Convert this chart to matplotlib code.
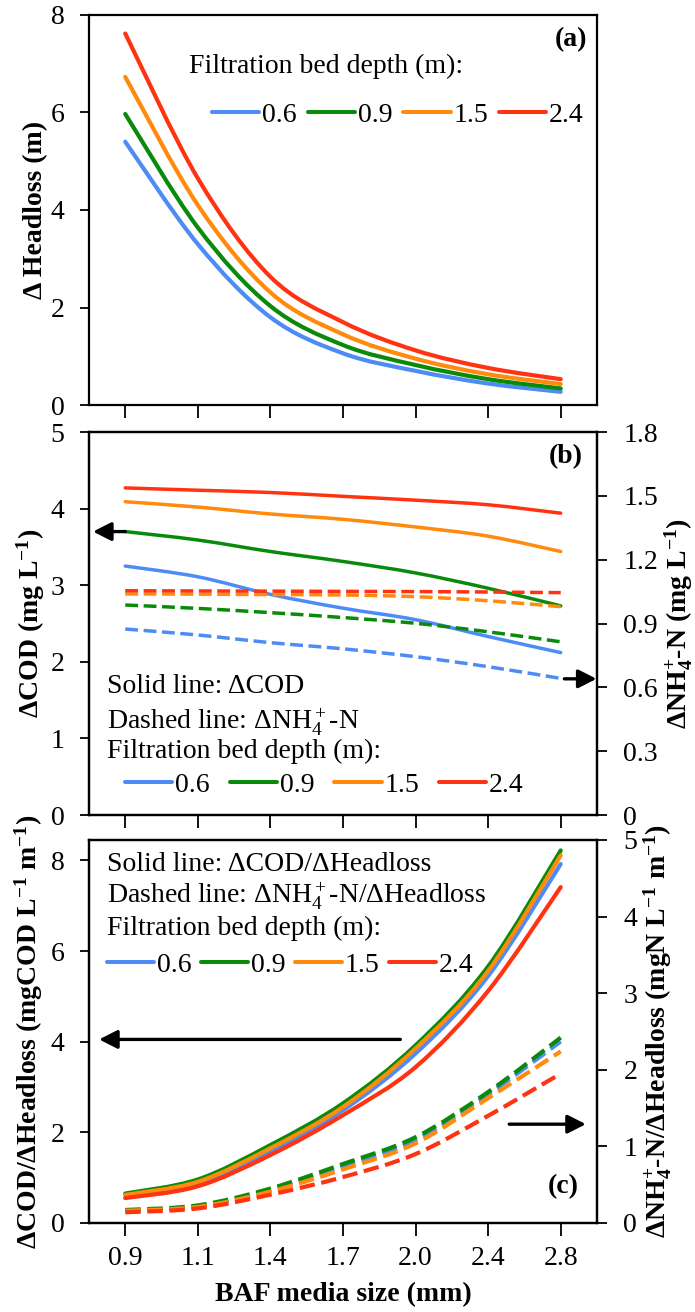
import numpy as np
import matplotlib
matplotlib.use("Agg")
import matplotlib.pyplot as plt
from matplotlib.path import Path
from matplotlib.patches import PathPatch
from matplotlib.lines import Line2D

# ---------------------------------------------------------------------------
# Fonts
# ---------------------------------------------------------------------------
plt.rcParams["font.family"] = "Liberation Serif"
plt.rcParams["font.size"] = 20
plt.rcParams["mathtext.fontset"] = "custom"
plt.rcParams["mathtext.rm"] = "Liberation Serif"
plt.rcParams["mathtext.it"] = "Liberation Serif:italic"
plt.rcParams["mathtext.bf"] = "Liberation Serif:bold"

# ---------------------------------------------------------------------------
# Data
# ---------------------------------------------------------------------------
media_size = ["0.9", "1.1", "1.4", "1.7", "2.0", "2.4", "2.8"]   # mm
bed_depth = ["0.6", "0.9", "1.5", "2.4"]                          # m
colors = ["#4d8cf5", "#0a8a0a", "#ff8a0c", "#ff3311"]

# (a) headloss (m), one row per bed depth
headloss = [
    [5.40, 3.30, 1.80, 1.06, 0.70, 0.44, 0.27],
    [5.97, 3.64, 2.03, 1.23, 0.82, 0.53, 0.34],
    [6.73, 4.10, 2.31, 1.45, 0.95, 0.63, 0.43],
    [7.62, 4.65, 2.63, 1.70, 1.12, 0.76, 0.53],
]

# (b) COD removal (mg/L) and NH4+-N removal (mg/L)
cod = [
    [3.25, 3.11, 2.88, 2.70, 2.55, 2.33, 2.12],
    [3.70, 3.59, 3.44, 3.31, 3.16, 2.96, 2.73],
    [4.09, 4.02, 3.93, 3.86, 3.76, 3.64, 3.44],
    [4.27, 4.24, 4.21, 4.16, 4.11, 4.05, 3.94],
]
nh4 = [
    [0.874, 0.846, 0.810, 0.781, 0.744, 0.697, 0.642],
    [0.987, 0.971, 0.951, 0.928, 0.901, 0.861, 0.814],
    [1.039, 1.038, 1.036, 1.034, 1.026, 1.007, 0.979],
    [1.054, 1.053, 1.052, 1.051, 1.050, 1.048, 1.045],
]

# (c) removal per unit headloss
cod_per_hl = [
    [0.61, 0.88, 1.58, 2.49, 3.74, 5.45, 7.92],
    [0.65, 0.96, 1.72, 2.64, 3.92, 5.66, 8.22],
    [0.62, 0.91, 1.65, 2.56, 3.85, 5.56, 8.11],
    [0.55, 0.81, 1.50, 2.38, 3.44, 5.12, 7.41],
]
nh4_per_hl = [
    [0.16, 0.22, 0.43, 0.74, 1.08, 1.68, 2.37],
    [0.17, 0.23, 0.45, 0.77, 1.12, 1.71, 2.42],
    [0.16, 0.21, 0.41, 0.70, 1.04, 1.63, 2.24],
    [0.14, 0.19, 0.37, 0.60, 0.90, 1.40, 1.95],
]

x = np.arange(len(media_size))


# ---------------------------------------------------------------------------
# Helpers
# ---------------------------------------------------------------------------
def smooth_path(xs, ys):
    """Bezier path through the points (spreadsheet-style smoothed line)."""
    pts = np.column_stack([xs, ys]).astype(float)
    padded = np.vstack([pts[0], pts, pts[-1]])
    verts = [pts[0]]
    codes = [Path.MOVETO]
    for i in range(len(pts) - 1):
        p0, p1, p2, p3 = padded[i], padded[i + 1], padded[i + 2], padded[i + 3]
        verts += [p1 + (p2 - p0) / 6.0, p2 - (p3 - p1) / 6.0, p2]
        codes += [Path.CURVE4] * 3
    return Path(verts, codes)


def draw_curves(ax, rows, lw, ls="-"):
    for k, (vals, col) in enumerate(zip(rows, colors)):
        patch = PathPatch(smooth_path(x, vals), fill=False, edgecolor=col,
                          lw=lw, linestyle=ls,
                          capstyle="round" if ls == "-" else "butt",
                          joinstyle="round", zorder=3 + k)
        ax.add_patch(patch)


def style_axes(ax, show_xlabels=False):
    ax.set_xlim(-0.5, len(media_size) - 0.5)
    ax.set_xticks(x)
    ax.set_xticklabels(media_size if show_xlabels else [])
    for s in ax.spines.values():
        s.set_linewidth(1.6)
    ax.tick_params(axis="x", direction="out", length=9.5, width=1.3, pad=7)
    ax.tick_params(axis="y", direction="out", length=6.5, width=1.3, pad=11)


def style_twin(ax):
    for s in ax.spines.values():
        s.set_linewidth(1.6)
    ax.tick_params(axis="y", direction="out", length=7, width=1.3, pad=12)


def depth_legend(ax, x0, y0, spacing):
    handles = [Line2D([], [], color=c, lw=2.9, solid_capstyle="round") for c in colors]
    ax.legend(handles, bed_depth, ncol=4, loc="center left",
              bbox_to_anchor=(x0, y0), frameon=False, borderpad=0,
              borderaxespad=0, handlelength=1.7, handletextpad=0.1,
              columnspacing=spacing, fontsize=20)


def arrow(ax, tip, tail, tip_coords, tail_coords):
    ax.annotate("", xy=tip, xycoords=tip_coords, xytext=tail,
                textcoords=tail_coords,
                arrowprops=dict(arrowstyle="-|>,head_length=0.55,head_width=0.28",
                                lw=2.4, color="black", shrinkA=0, shrinkB=0,
                                mutation_scale=20),
                zorder=10)


# ---------------------------------------------------------------------------
# Figure
# ---------------------------------------------------------------------------
fig = plt.figure(figsize=(6.95, 13.12), dpi=100)
left, width = 0.128, 0.731
ax_a = fig.add_axes([left, 0.69131, width, 0.29726])
ax_b = fig.add_axes([left, 0.37881, width, 0.29192])
ax_c = fig.add_axes([left, 0.06784, width, 0.29192])

# (a) headloss
draw_curves(ax_a, headloss, lw=3.0)
style_axes(ax_a)
ax_a.set_ylim(0, 8)
ax_a.set_yticks([0, 2, 4, 6, 8])
ax_a.set_ylabel("Δ Headloss (m)", fontweight="bold", labelpad=2)
ax_a.text(0.197, 0.867, "Filtration bed depth (m):", transform=ax_a.transAxes,
          ha="left", va="center")
depth_legend(ax_a, 0.242, 0.744, 0.4)
ax_a.text(0.980, 0.936, "(a)", transform=ax_a.transAxes, ha="right",
          va="center", fontweight="bold")

# (b) COD and NH4+-N removal
draw_curves(ax_b, cod, lw=2.5)
style_axes(ax_b)
ax_b.set_ylim(0, 5)
ax_b.set_yticks(range(6))
ax_b.set_ylabel(r"ΔCOD (mg L$^{\mathbf{-1}}$)", fontweight="bold", labelpad=3)
ax_b2 = ax_b.twinx()
draw_curves(ax_b2, nh4, lw=2.5, ls="--")
style_twin(ax_b2)
ax_b2.set_ylim(0, 1.8)
ax_b2.set_yticks([0, 0.3, 0.6, 0.9, 1.2, 1.5, 1.8])
ax_b2.set_yticklabels(["0", "0.3", "0.6", "0.9", "1.2", "1.5", "1.8"])
ax_b2.set_ylabel(r"ΔNH$_\mathbf{4}^\mathbf{+}$-N (mg L$^{\mathbf{-1}}$)",
                 fontweight="bold", rotation=90, labelpad=3)
for yy, s in [(0.335, "Solid line: ΔCOD"),
              (0.243, r"Dashed line: ΔNH$_4^+$-N"),
              (0.165, "Filtration bed depth (m):")]:
    ax_b2.text(0.036, yy, s, transform=ax_b2.transAxes, ha="left", va="center")
depth_legend(ax_b2, 0.071, 0.078, 0.72)
ax_b2.text(0.972, 0.936, "(b)", transform=ax_b2.transAxes, ha="right",
           va="center", fontweight="bold")
arrow(ax_b, (0.008, 3.70), (0, 3.70), ("axes fraction", "data"), "data")
arrow(ax_b2, (0.999, 0.64), (6.05, 0.64), ("axes fraction", "data"), "data")

# (c) removal per unit headloss
draw_curves(ax_c, cod_per_hl, lw=3.0)
style_axes(ax_c, show_xlabels=True)
ax_c.set_ylim(0, 8.45)
ax_c.set_yticks([0, 2, 4, 6, 8])
ax_c.set_ylabel(r"ΔCOD/ΔHeadloss (mgCOD L$^{\mathbf{-1}}$ m$^{\mathbf{-1}}$)",
                fontweight="bold", labelpad=4)
ax_c.set_xlabel("BAF media size (mm)", fontweight="bold", labelpad=8)
ax_c2 = ax_c.twinx()
draw_curves(ax_c2, nh4_per_hl, lw=3.0, ls="--")
style_twin(ax_c2)
ax_c2.set_ylim(0, 5)
ax_c2.set_yticks(range(6))
ax_c2.set_ylabel(r"ΔNH$_\mathbf{4}^\mathbf{+}$-N/ΔHeadloss (mgN L$^{\mathbf{-1}}$ m$^{\mathbf{-1}}$)",
                 fontweight="bold", rotation=90, labelpad=3)
for yy, s in [(0.935, "Solid line: ΔCOD/ΔHeadloss"),
              (0.852, r"Dashed line: ΔNH$_4^+$-N/ΔHeadloss"),
              (0.769, "Filtration bed depth (m):")]:
    ax_c2.text(0.036, yy, s, transform=ax_c2.transAxes, ha="left", va="center")
depth_legend(ax_c2, 0.036, 0.674, 0.33)
ax_c2.text(0.965, 0.095, "(c)", transform=ax_c2.transAxes, ha="right",
           va="center", fontweight="bold")
arrow(ax_c, (0.020, 4.05), (3.79, 4.05), ("axes fraction", "data"), "data")
arrow(ax_c2, (0.978, 1.29), (5.29, 1.29), ("axes fraction", "data"), "data")

fig.savefig("out.png", dpi=100)
